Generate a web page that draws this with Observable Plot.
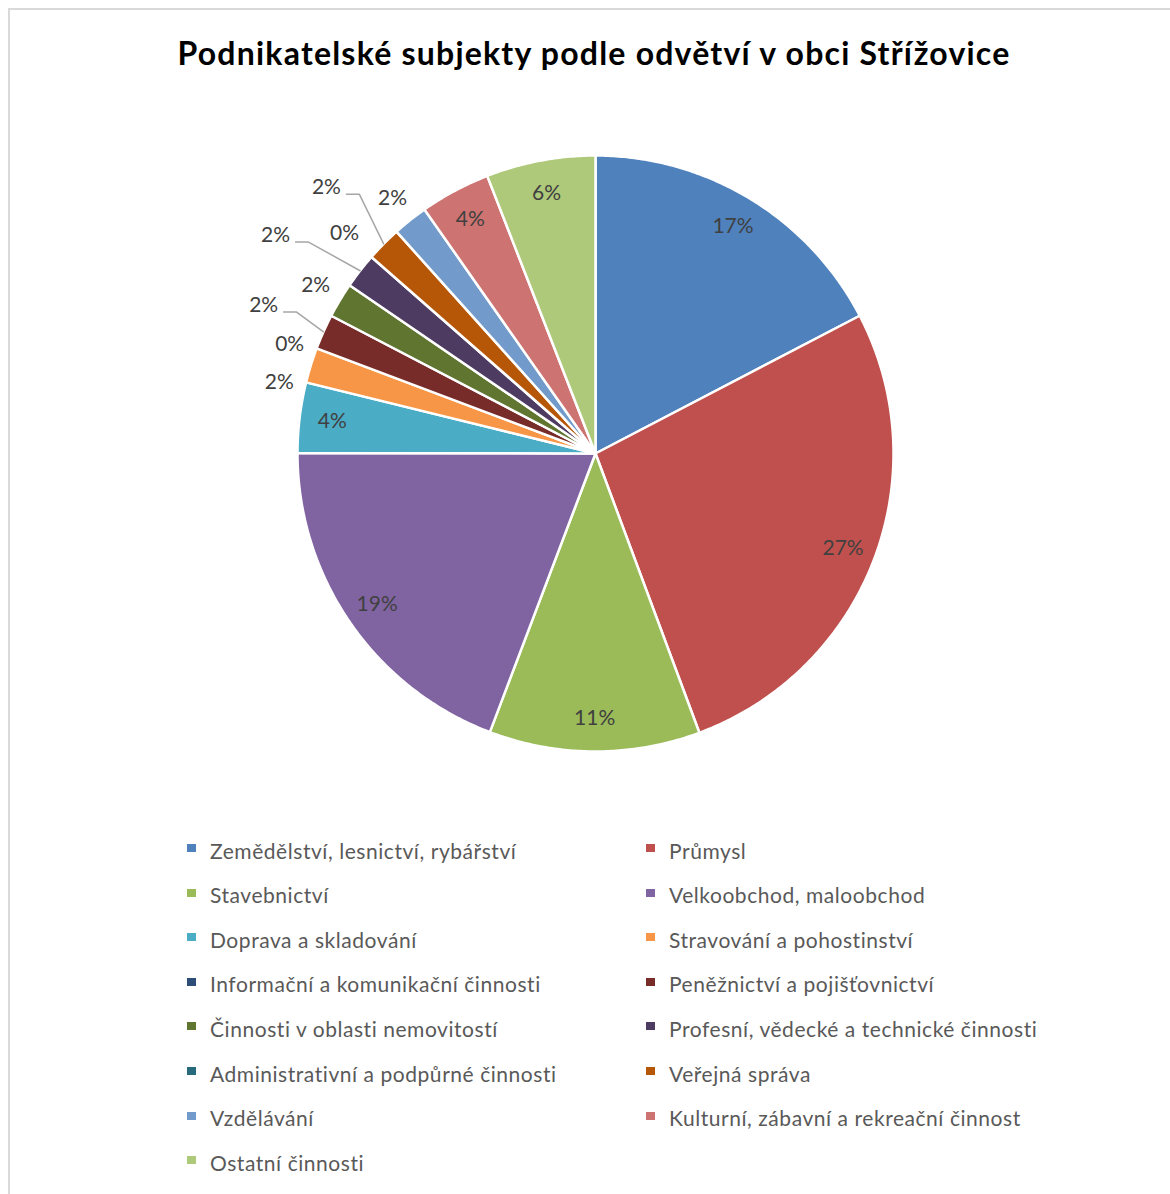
<!DOCTYPE html>
<html><head><meta charset="utf-8">
<script src="https://cdn.jsdelivr.net/npm/d3@7"></script>
<script src="https://cdn.jsdelivr.net/npm/@observablehq/plot@0.6"></script>
<style>
html,body{margin:0;padding:0;background:#fff;}
#wrap{position:relative;width:1170px;height:1194px;overflow:hidden;font-family:Lato,"Noto Sans",sans-serif;}
#frame{position:absolute;left:8px;top:8px;width:1300px;height:1300px;border-left:2px solid #d9d9d9;border-top:2px solid #d9d9d9;box-sizing:border-box;}
#title{position:absolute;left:9px;width:1170px;top:34px;text-align:center;font-weight:700;font-size:32px;letter-spacing:1.22px;line-height:1.2;color:#000;white-space:nowrap;}
#chart{position:absolute;left:0;top:110px;}
.li{position:absolute;display:flex;align-items:center;font-size:21px;letter-spacing:0.55px;color:#595959;white-space:nowrap;height:30px;}
.sw{width:9px;height:8px;margin-right:14px;flex:none;position:relative;top:-2px;}
</style>
</head><body>
<div id="wrap">
  <div id="frame"></div>
  <div id="title">Podnikatelské subjekty podle odvětví v obci Střížovice</div>
  <div id="chart"></div>
  <div id="legend"></div>
</div>
<script>
// ---- data (shares in %) ----
const categories = [
  "Zemědělství, lesnictví, rybářství",
  "Průmysl",
  "Stavebnictví",
  "Velkoobchod, maloobchod",
  "Doprava a skladování",
  "Stravování a pohostinství",
  "Informační a komunikační činnosti",
  "Peněžnictví a pojišťovnictví",
  "Činnosti v oblasti nemovitostí",
  "Profesní, vědecké a technické činnosti",
  "Administrativní a podpůrné činnosti",
  "Veřejná správa",
  "Vzdělávání",
  "Kulturní, zábavní a rekreační činnost",
  "Ostatní činnosti"
];
const shares = [17.3, 26.9, 11.4, 19.2, 3.8, 1.9, 0, 1.9, 1.9, 1.9, 0, 1.9, 1.9, 3.8, 5.9];
const colors = ["#4F81BD","#C0504D","#9BBB59","#8064A2","#4BACC6","#F79646","#2C4D75","#772C2A","#5F7530","#4D3B62","#276A7C","#B65708","#729ACA","#CD7371","#AFC97A"];

// ---- layout (label placement, not data) ----
const R = 298;                       // pie radius in px
const insideK = 0.89, outsideK = 1.095;
const nudge = {5: {k: 1.088, da: -4.5}, 6: {k: 1.09, da: -1}, 10: {k: 1.12, da: 0},
               7: {k: 1.22, da: 0, leader: true}, 9: {k: 1.30, da: -3.5, leader: true}, 11: {k: 1.27, da: 0, leader: true}};

const total = d3.sum(shares);
const rad = Math.PI / 180;
let acc = 0;
const slices = categories.map((c, i) => {
  const a0 = acc / total * 360;
  acc += shares[i];
  const a1 = acc / total * 360;
  return {cat: c, i, v: shares[i], a0, a1, mid: (a0 + a1) / 2, pct: Math.round(shares[i] / total * 100) + "%"};
});

// polygon points for slices
const polyPts = [];
for (const s of slices) {
  if (s.v === 0) continue;
  polyPts.push({cat: s.cat, x: 0, y: 0});
  const n = Math.max(2, Math.ceil((s.a1 - s.a0) / 0.5));
  for (let j = 0; j <= n; j++) {
    const a = (s.a0 + (s.a1 - s.a0) * j / n) * rad;
    polyPts.push({cat: s.cat, x: Math.sin(a), y: Math.cos(a)});
  }
  polyPts.push({cat: s.cat, x: 0, y: 0});
}

// labels
const labels = slices.map(s => {
  const big = s.v / total >= 0.035;
  const nd = nudge[s.i] || {k: big ? insideK : outsideK, da: 0};
  const a = (s.mid + nd.da) * rad;
  return {...s, lx: nd.k * Math.sin(a), ly: nd.k * Math.cos(a), leader: !!nd.leader};
});
const leaderPts = [];
for (const l of labels) {
  if (!l.leader) continue;
  const a = l.mid * rad;
  leaderPts.push({cat: l.cat, x: Math.sin(a), y: Math.cos(a)});
  leaderPts.push({cat: l.cat, x: l.lx + 33 / R, y: l.ly - 7 / R});
  leaderPts.push({cat: l.cat, x: l.lx + 20 / R, y: l.ly - 7 / R});
}

const cx = 595, cy = 453 - 110, W = 1170, H = 700;
const chart = Plot.plot({
  width: W, height: H,
  marginLeft: cx - R, marginRight: W - (cx + R),
  marginTop: cy - R, marginBottom: H - (cy + R),
  x: {domain: [-1, 1], axis: null},
  y: {domain: [-1, 1], axis: null},
  color: {domain: categories, range: colors},
  style: {fontFamily: "Lato, 'Noto Sans', sans-serif", background: "transparent", overflow: "visible"},
  marks: [
    Plot.line(polyPts, {x: "x", y: "y", z: "cat", fill: "cat", stroke: "white", strokeWidth: 2.5, strokeLinejoin: "round"}),
    Plot.line(leaderPts, {x: "x", y: "y", z: "cat", stroke: "#a6a6a6", strokeWidth: 1.5}),
    Plot.text(labels, {x: "lx", y: "ly", text: "pct", fill: "#404040", fontSize: 21, textAnchor: "middle", lineAnchor: "middle"})
  ]
});
document.getElementById("chart").appendChild(chart);

// legend
const leg = document.getElementById("legend");
categories.forEach((c, i) => {
  const col = i % 2, row = Math.floor(i / 2);
  const d = document.createElement("div");
  d.className = "li";
  d.style.left = (col ? 646 : 187) + "px";
  d.style.top = (850 + row * 44.6 - 15) + "px";
  d.innerHTML = `<span class="sw" style="background:${colors[i]}"></span><span>${c}</span>`;
  leg.appendChild(d);
});
</script>
</body></html>
